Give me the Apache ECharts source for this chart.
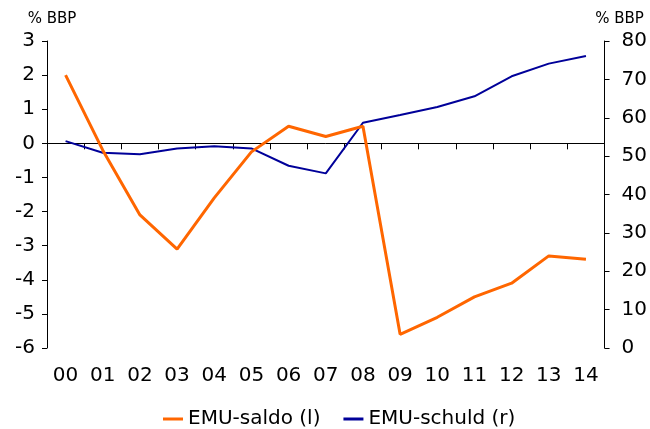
<!DOCTYPE html>
<html>
<head>
<meta charset="utf-8">
<script src="https://cdn.jsdelivr.net/npm/echarts@6/dist/echarts.min.js"></script>
<style>html,body{margin:0;padding:0;background:#fff}#c{width:650px;height:429px}</style>
</head>
<body>
<div id="c"></div>
<script>
var categories = ['00','01','02','03','04','05','06','07','08','09','10','11','12','13','14'];
var emuSaldo = [2.0, -0.2, -2.1, -3.1, -1.6, -0.25, 0.5, 0.2, 0.5, -5.6, -5.1, -4.5, -4.1, -3.3, -3.4];
var emuSchuld = [53.9, 50.9, 50.5, 52.0, 52.6, 52.0, 47.5, 45.5, 58.7, 60.7, 62.8, 65.6, 70.8, 74.1, 76.1];
var leftTicks = {min: -6, max: 3, interval: 1};
var rightTicks = {min: 0, max: 80, interval: 10};

var FONT = 'DejaVu Sans';
var chart = echarts.init(document.getElementById('c'));
chart.setOption({
  animation: false,
  textStyle: {fontFamily: FONT},
  grid: {left: 47, right: 43, top: 41, bottom: 81},
  legend: {
    left: 158, top: 404,
    itemWidth: 20, itemHeight: 3, itemGap: 23,
    icon: 'rect',
    textStyle: {fontFamily: FONT, fontSize: 20, color: '#000'},
    data: ['EMU-saldo (l)', 'EMU-schuld (r)']
  },
  xAxis: [{
    type: 'category', data: categories, boundaryGap: true,
    axisLine: {onZero: true, onZeroAxisIndex: 0, lineStyle: {color: '#000', width: 1}},
    axisTick: {show: true, length: 6, inside: false, lineStyle: {color: '#000'}},
    axisLabel: {show: false}
  }, {
    type: 'category', data: categories, boundaryGap: true, position: 'bottom',
    axisLine: {show: false, onZero: false}, axisTick: {show: false},
    axisLabel: {show: true, margin: 18, fontSize: 20, color: '#000', fontFamily: FONT}
  }],
  yAxis: [{
    type: 'value', position: 'left', name: '% BBP',
    nameTextStyle: {fontSize: 15, color: '#000', fontFamily: FONT, align: 'center', padding: [0, 0, 0, 10]},
    nameGap: 14,
    min: leftTicks.min, max: leftTicks.max, interval: leftTicks.interval,
    axisLine: {show: true, lineStyle: {color: '#000'}},
    axisTick: {show: true, length: 5, lineStyle: {color: '#000'}},
    splitLine: {show: false},
    axisLabel: {fontSize: 20, color: '#000', margin: 12, fontFamily: FONT}
  }, {
    type: 'value', position: 'right', name: '% BBP',
    nameTextStyle: {fontSize: 15, color: '#000', fontFamily: FONT, align: 'center', padding: [0, 0, 0, 30]},
    nameGap: 14,
    min: rightTicks.min, max: rightTicks.max, interval: rightTicks.interval,
    axisLine: {show: true, lineStyle: {color: '#000'}},
    axisTick: {show: true, length: 5, lineStyle: {color: '#000'}},
    splitLine: {show: false},
    axisLabel: {fontSize: 20, color: '#000', margin: 17, fontFamily: FONT}
  }],
  series: [{
    name: 'EMU-saldo (l)', type: 'line', xAxisIndex: 0, yAxisIndex: 0,
    data: emuSaldo, symbol: 'none', z: 3,
    lineStyle: {color: '#FF6600', width: 3}, itemStyle: {color: '#FF6600'}
  }, {
    name: 'EMU-schuld (r)', type: 'line', xAxisIndex: 0, yAxisIndex: 1,
    data: emuSchuld, symbol: 'none', z: 2,
    lineStyle: {color: '#000099', width: 2}, itemStyle: {color: '#000099'}
  }]
});
</script>
</body>
</html>
